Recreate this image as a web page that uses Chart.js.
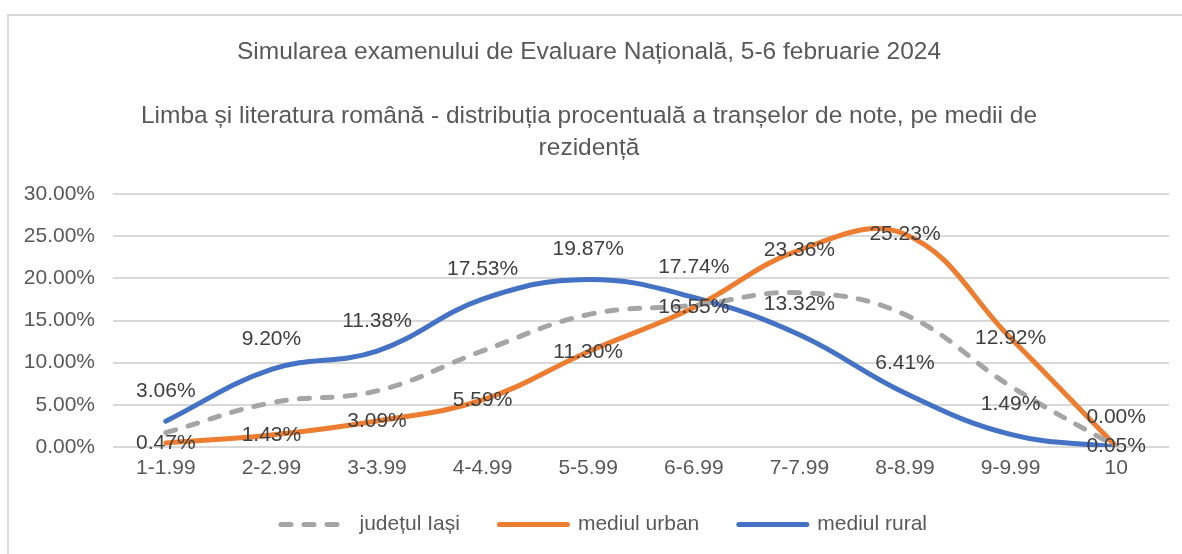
<!DOCTYPE html>
<html>
<head>
<meta charset="utf-8">
<script src="https://cdn.jsdelivr.net/npm/chart.js@4"></script>
<style>
  html, body { margin: 0; padding: 0; background: #fff; overflow: hidden; }
  #wrap {
    position: absolute; left: 7px; top: 14px;
    width: 1175px; height: 538px;
    border-left: 2px solid #d9d9d9; border-top: 2px solid #d9d9d9;
  }
</style>
</head>
<body>
<div id="wrap"><canvas id="distChart"></canvas></div>
<script>
var categorii = ['1-1.99', '2-2.99', '3-3.99', '4-4.99', '5-5.99', '6-6.99', '7-7.99', '8-8.99', '9-9.99', '10'];
var judetulIasi = [1.7, 5.25, 6.65, 11.4, 15.7, 16.8, 18.3, 15.7, 7.2, 0.03];
var mediulUrban = [0.47, 1.43, 3.09, 5.59, 11.30, 16.55, 23.36, 25.23, 12.92, 0.05];
var mediulRural = [3.06, 9.20, 11.38, 17.53, 19.87, 17.74, 13.32, 6.41, 1.49, 0.00];
var titlu = [
    'Simularea examenului de Evaluare Națională, 5-6 februarie 2024',
    '',
    'Limba și literatura română - distribuția procentuală a tranșelor de note, pe medii de',
    'rezidență'
];

var fontFam = '"Liberation Sans", Arial, sans-serif';
var textColor = '#595959';

// etichete de date (centru pentru urban, deasupra pentru rural)
var etichete = {
    id: 'etichete',
    afterLayout: function (chart) {
        // legenda e putin mai la dreapta in original
        if (chart.legend) chart.legend.left += 30;
    },
    afterDatasetsDraw: function (chart) {
        var ctx = chart.ctx;
        ctx.save();
        ctx.font = '21px ' + fontFam;
        ctx.fillStyle = '#404040';
        ctx.textAlign = 'center';
        ctx.textBaseline = 'middle';
        chart.data.datasets.forEach(function (ds, i) {
            if (!ds.showLabels) return;
            var meta = chart.getDatasetMeta(i);
            meta.data.forEach(function (pt, j) {
                var dy = ds.showLabels === 'above' ? -30 : 0;
                ctx.fillText(ds.data[j].toFixed(2) + '%', pt.x, pt.y + dy);
            });
        });
        ctx.restore();
    }
};

var ctx = document.getElementById('distChart').getContext('2d');
var myChart = new Chart(ctx, {
    type: 'line',
    data: {
        labels: categorii,
        datasets: [{
            label: 'județul Iași',
            data: judetulIasi,
            borderColor: '#a5a5a5',
            backgroundColor: '#a5a5a5',
            borderWidth: 5,
            borderDash: [10, 13],
            borderCapStyle: 'round',
            pointRadius: 0,
            tension: 0.4
        }, {
            label: 'mediul urban',
            data: mediulUrban,
            borderColor: '#ed7d31',
            backgroundColor: '#ed7d31',
            borderWidth: 5,
            borderCapStyle: 'round',
            pointRadius: 0,
            tension: 0.4,
            showLabels: 'center'
        }, {
            label: 'mediul rural',
            data: mediulRural,
            borderColor: '#4472c4',
            backgroundColor: '#4472c4',
            borderWidth: 5,
            borderCapStyle: 'round',
            pointRadius: 0,
            tension: 0.4,
            showLabels: 'above'
        }]
    },
    options: {
        responsive: true,
        maintainAspectRatio: false,
        animation: false,
        layout: { padding: { left: 0, right: 15, top: 0, bottom: 9 } },
        plugins: {
            title: {
                display: true,
                text: titlu,
                color: textColor,
                font: { family: fontFam, size: 24.5, weight: 'normal', lineHeight: '32px' },
                padding: { top: 20, bottom: 30 }
            },
            legend: {
                position: 'bottom',
                labels: {
                    usePointStyle: true,
                    pointStyle: 'line',
                    pointStyleWidth: 68,
                    color: textColor,
                    font: { family: fontFam, size: 21 },
                    padding: 22,
                    generateLabels: function (chart) {
                        var items = Chart.defaults.plugins.legend.labels.generateLabels(chart);
                        items.forEach(function (it, k) {
                            var ds = chart.data.datasets[it.datasetIndex];
                            it.lineDash = ds.borderDash || [];
                            it.lineCap = 'round';
                            it.lineWidth = 5;
                            it.strokeStyle = ds.borderColor;
                            if (k < items.length - 1) it.text += '   ';
                        });
                        return items;
                    }
                }
            },
            tooltip: { enabled: false }
        },
        scales: {
            x: {
                offset: true,
                grid: { display: false },
                border: { display: false },
                ticks: {
                    color: textColor,
                    font: { family: fontFam, size: 21 },
                    padding: 1,
                    maxRotation: 0
                },
                afterFit: function (scale) { scale.height = 45; }
            },
            y: {
                min: 0,
                max: 30,
                ticks: {
                    stepSize: 5,
                    color: textColor,
                    font: { family: fontFam, size: 21 },
                    padding: 18,
                    callback: function (v) { return v.toFixed(2) + '%'; }
                },
                grid: { color: '#d9d9d9', lineWidth: 2, drawTicks: false },
                border: { display: false },
                afterFit: function (scale) { scale.width = 104; }
            }
        }
    },
    plugins: [etichete]
});
</script>
</body>
</html>
